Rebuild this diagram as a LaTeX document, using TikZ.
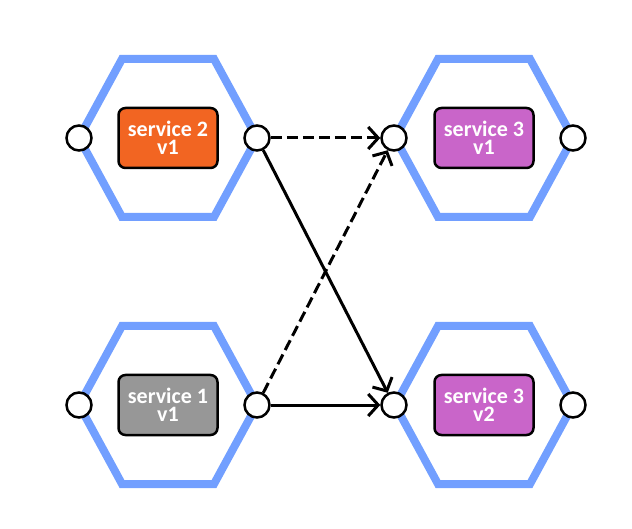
\documentclass[tikz,border=0pt]{standalone}
\usepackage{fontspec}
\setmainfont{Carlito}
\usetikzlibrary{arrows.meta}
\definecolor{hexblue}{HTML}{729FFF}
\definecolor{svcorange}{HTML}{F26522}
\definecolor{svcgray}{HTML}{979797}
\definecolor{svcpurple}{HTML}{C965C9}

\begin{document}
\begin{tikzpicture}[x=1pt,y=1pt,
        hexline/.style={draw=hexblue,line width=8pt,line join=miter},
        svc/.style={draw=black,line width=2.5pt,rounded corners=7pt,minimum width=99pt,minimum height=60pt,
            text=white,font=\fontsize{22}{18}\selectfont\bfseries,align=center,inner sep=0pt},
        port/.style={circle,draw=black,fill=white,line width=2.5pt,minimum size=25pt,inner sep=0pt},
        flow/.style={line width=3pt,-{Straight Barb[length=10pt,width=22pt]}},
        flowdash/.style={flow,dash pattern=on 11pt off 5pt}]
                \useasboundingbox (0,0) rectangle (632,528);

                \coordinate (h2) at (168,390);
                \coordinate (h3a) at (484,390);
                \coordinate (h1) at (168,123);
                \coordinate (h3b) at (484,123);

                \foreach \h in {h2,h3a,h1,h3b}
                    \draw[hexline] (\h) ++(-89,0) -- ++(43,79) -- ++(92,0) -- ++(43,-79) -- ++(-43,-79) -- ++(-92,0) -- cycle;

                \node[svc,fill=svcorange] at (h2) (s2) {service 2\\v1};
                \node[svc,fill=svcpurple] at (h3a) (s3a) {service 3\\v1};
                \node[svc,fill=svcgray] at (h1) (s1) {service 1\\v1};
                \node[svc,fill=svcpurple] at (h3b) (s3b) {service 3\\v2};

                \node[port] at ([xshift=-89pt]h2) (p2in) {};
                \node[port] at ([xshift=89pt]h2) (p2out) {};
                \node[port] at ([xshift=-90pt]h3a) (p3ain) {};
                \node[port] at ([xshift=89pt]h3a) (p3aout) {};
                \node[port] at ([xshift=-89pt]h1) (p1in) {};
                \node[port] at ([xshift=89pt]h1) (p1out) {};
                \node[port] at ([xshift=-90pt]h3b) (p3bin) {};
                \node[port] at ([xshift=89pt]h3b) (p3bout) {};

                \draw[flowdash] (p2out) -- (p3ain);
                \draw[flow] (p2out) -- (p3bin);
                \draw[flowdash] (p1out) -- (p3ain);
                \draw[flow] (p1out) -- (p3bin);

            \end{tikzpicture}
\end{document}
